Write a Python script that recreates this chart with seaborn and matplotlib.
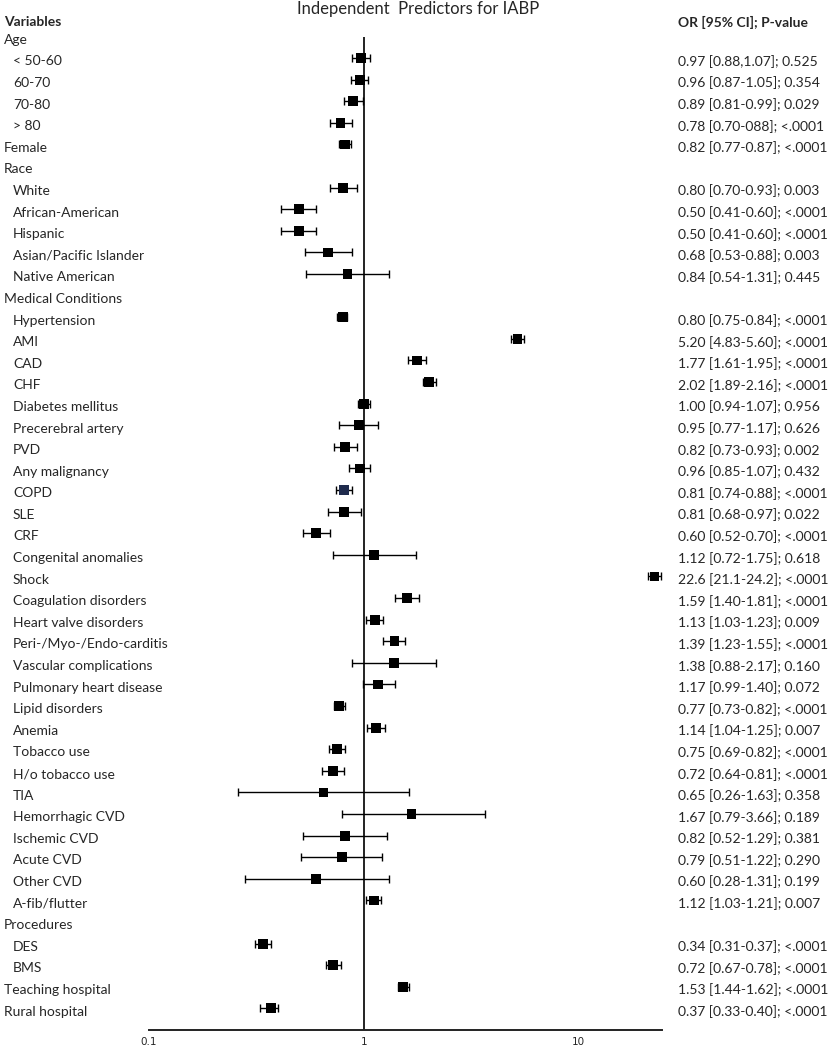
import matplotlib
matplotlib.use("Agg")
import matplotlib.pyplot as plt
import matplotlib.transforms as mtransforms
import numpy as np
import seaborn as sns

# rows, top to bottom ; None = section header without estimate
labels = ["Age", "< 50-60", "60-70", "70-80", "> 80", "Female",
          "Race", "White", "African-American", "Hispanic", "Asian/Pacific Islander", "Native American",
          "Medical Conditions", "Hypertension", "AMI", "CAD", "CHF", "Diabetes mellitus",
          "Precerebral artery", "PVD", "Any malignancy", "COPD", "SLE", "CRF",
          "Congenital anomalies", "Shock", "Coagulation disorders", "Heart valve disorders",
          "Peri-/Myo-/Endo-carditis", "Vascular complications", "Pulmonary heart disease",
          "Lipid disorders", "Anemia", "Tobacco use", "H/o tobacco use", "TIA",
          "Hemorrhagic CVD", "Ischemic CVD", "Acute CVD", "Other CVD", "A-fib/flutter",
          "Procedures", "DES", "BMS", "Teaching hospital", "Rural hospital"]
indented = [False, True, True, True, True, False,
            False, True, True, True, True, True,
            False] + [True] * 28 + [False, True, True, False, False]

odds = [None, 0.97, 0.96, 0.89, 0.78, 0.82,
        None, 0.80, 0.50, 0.50, 0.68, 0.84,
        None, 0.80, 5.20, 1.77, 2.02, 1.00, 0.95, 0.82, 0.96, 0.81, 0.81, 0.60,
        1.12, 22.6, 1.59, 1.13, 1.39, 1.38, 1.17, 0.77, 1.14, 0.75, 0.72, 0.65,
        1.67, 0.82, 0.79, 0.60, 1.12,
        None, 0.34, 0.72, 1.53, 0.37]
ci_low = [None, 0.88, 0.87, 0.81, 0.70, 0.77,
          None, 0.70, 0.41, 0.41, 0.53, 0.54,
          None, 0.75, 4.83, 1.61, 1.89, 0.94, 0.77, 0.73, 0.85, 0.74, 0.68, 0.52,
          0.72, 21.1, 1.40, 1.03, 1.23, 0.88, 0.99, 0.73, 1.04, 0.69, 0.64, 0.26,
          0.79, 0.52, 0.51, 0.28, 1.03,
          None, 0.31, 0.67, 1.44, 0.33]
ci_high = [None, 1.07, 1.05, 0.99, 0.88, 0.87,
           None, 0.93, 0.60, 0.60, 0.88, 1.31,
           None, 0.84, 5.60, 1.95, 2.16, 1.07, 1.17, 0.93, 1.07, 0.88, 0.97, 0.70,
           1.75, 24.2, 1.81, 1.23, 1.55, 2.17, 1.40, 0.82, 1.25, 0.82, 0.81, 1.63,
           3.66, 1.29, 1.22, 1.31, 1.21,
           None, 0.37, 0.78, 1.62, 0.40]
result_text = ["", "0.97 [0.88,1.07]; 0.525", "0.96 [0.87-1.05]; 0.354", "0.89 [0.81-0.99]; 0.029",
               "0.78 [0.70-088]; <.0001", "0.82 [0.77-0.87]; <.0001",
               "", "0.80 [0.70-0.93]; 0.003", "0.50 [0.41-0.60]; <.0001", "0.50 [0.41-0.60]; <.0001",
               "0.68 [0.53-0.88]; 0.003", "0.84 [0.54-1.31]; 0.445",
               "", "0.80 [0.75-0.84]; <.0001", "5.20 [4.83-5.60]; <.0001", "1.77 [1.61-1.95]; <.0001",
               "2.02 [1.89-2.16]; <.0001", "1.00 [0.94-1.07]; 0.956", "0.95 [0.77-1.17]; 0.626",
               "0.82 [0.73-0.93]; 0.002", "0.96 [0.85-1.07]; 0.432", "0.81 [0.74-0.88]; <.0001",
               "0.81 [0.68-0.97]; 0.022", "0.60 [0.52-0.70]; <.0001", "1.12 [0.72-1.75]; 0.618",
               "22.6 [21.1-24.2]; <.0001", "1.59 [1.40-1.81]; <.0001", "1.13 [1.03-1.23]; 0.009",
               "1.39 [1.23-1.55]; <.0001", "1.38 [0.88-2.17]; 0.160", "1.17 [0.99-1.40]; 0.072",
               "0.77 [0.73-0.82]; <.0001", "1.14 [1.04-1.25]; 0.007", "0.75 [0.69-0.82]; <.0001",
               "0.72 [0.64-0.81]; <.0001", "0.65 [0.26-1.63]; 0.358", "1.67 [0.79-3.66]; 0.189",
               "0.82 [0.52-1.29]; 0.381", "0.79 [0.51-1.22]; 0.290", "0.60 [0.28-1.31]; 0.199",
               "1.12 [1.03-1.21]; 0.007",
               "", "0.34 [0.31-0.37]; <.0001", "0.72 [0.67-0.78]; <.0001",
               "1.53 [1.44-1.62]; <.0001", "0.37 [0.33-0.40]; <.0001"]
x_ticks = [0.1, 1, 10]
x_tick_labels = ["0.1", "1", "10"]

sns.set_style("white")
plt.rcParams["font.family"] = ["Lato", "DejaVu Sans"]

W, H = 835, 1050
fig = plt.figure(figsize=(W / 100, H / 100), dpi=100)
top_px, bottom_px = 36.5, 1030
ax = fig.add_axes([149 / W, 1 - bottom_px / H, (662 - 149) / W, (bottom_px - top_px) / H])

rows = np.arange(len(labels))
n_rows = len(labels)
has = [o is not None for o in odds]
yy = rows[has]
oo = np.array([o for o in odds if o is not None])
lo = np.array([v for v in ci_low if v is not None])
hi = np.array([v for v in ci_high if v is not None])

ax.errorbar(oo, yy, xerr=[oo - lo, hi - oo], fmt="none", ecolor="black",
            elinewidth=1.0, capsize=3.2, capthick=1.0, zorder=2)
colors = ["#1f2b4d" if labels[r] == "COPD" else "black" for r in yy]
sns.scatterplot(x=oo, y=yy, marker="s", s=50, c=colors, edgecolor="none",
                ax=ax, zorder=3, legend=False)

ax.axvline(1, color="#222222", lw=1.4, zorder=1)
ax.set_xscale("log")
ax.set_xlim(0.1, 24.5)
ax.set_ylim(n_rows, 0)
for s in ["top", "right", "left"]:
    ax.spines[s].set_visible(False)
ax.spines["bottom"].set_linewidth(1.4)
ax.spines["bottom"].set_color("#222222")
ax.set_yticks([])
ax.set_xticks(x_ticks)
ax.set_xticklabels(x_tick_labels, fontsize=7.5, family="DejaVu Sans")
ax.xaxis.set_minor_locator(matplotlib.ticker.NullLocator())
ax.tick_params(axis="x", length=0, pad=5)

trans = mtransforms.blended_transform_factory(fig.transFigure, ax.transData)
for r, (lab, ind, txt) in enumerate(zip(labels, indented, result_text)):
    x0 = 13 / W if ind else 4 / W
    ax.text(x0, r + 0.15, lab, transform=trans, ha="left", va="center",
            fontsize=10, clip_on=False)
    if txt:
        ax.text(678 / W, r + 0.15, txt, transform=trans, ha="left", va="center",
                fontsize=10, clip_on=False)

ax.text(4 / W, -0.67, "Variables", transform=trans, ha="left", va="center",
        fontsize=10, fontweight="bold", clip_on=False)
ax.text(678 / W, -0.67, "OR [95% CI]; P-value", transform=trans, ha="left", va="center",
        fontsize=10, fontweight="bold", clip_on=False)
fig.text(418 / W, 1 - 9 / H, "Independent  Predictors for IABP", ha="center", va="center",
         fontsize=12)

fig.savefig("out.png", dpi=100, facecolor="white")
